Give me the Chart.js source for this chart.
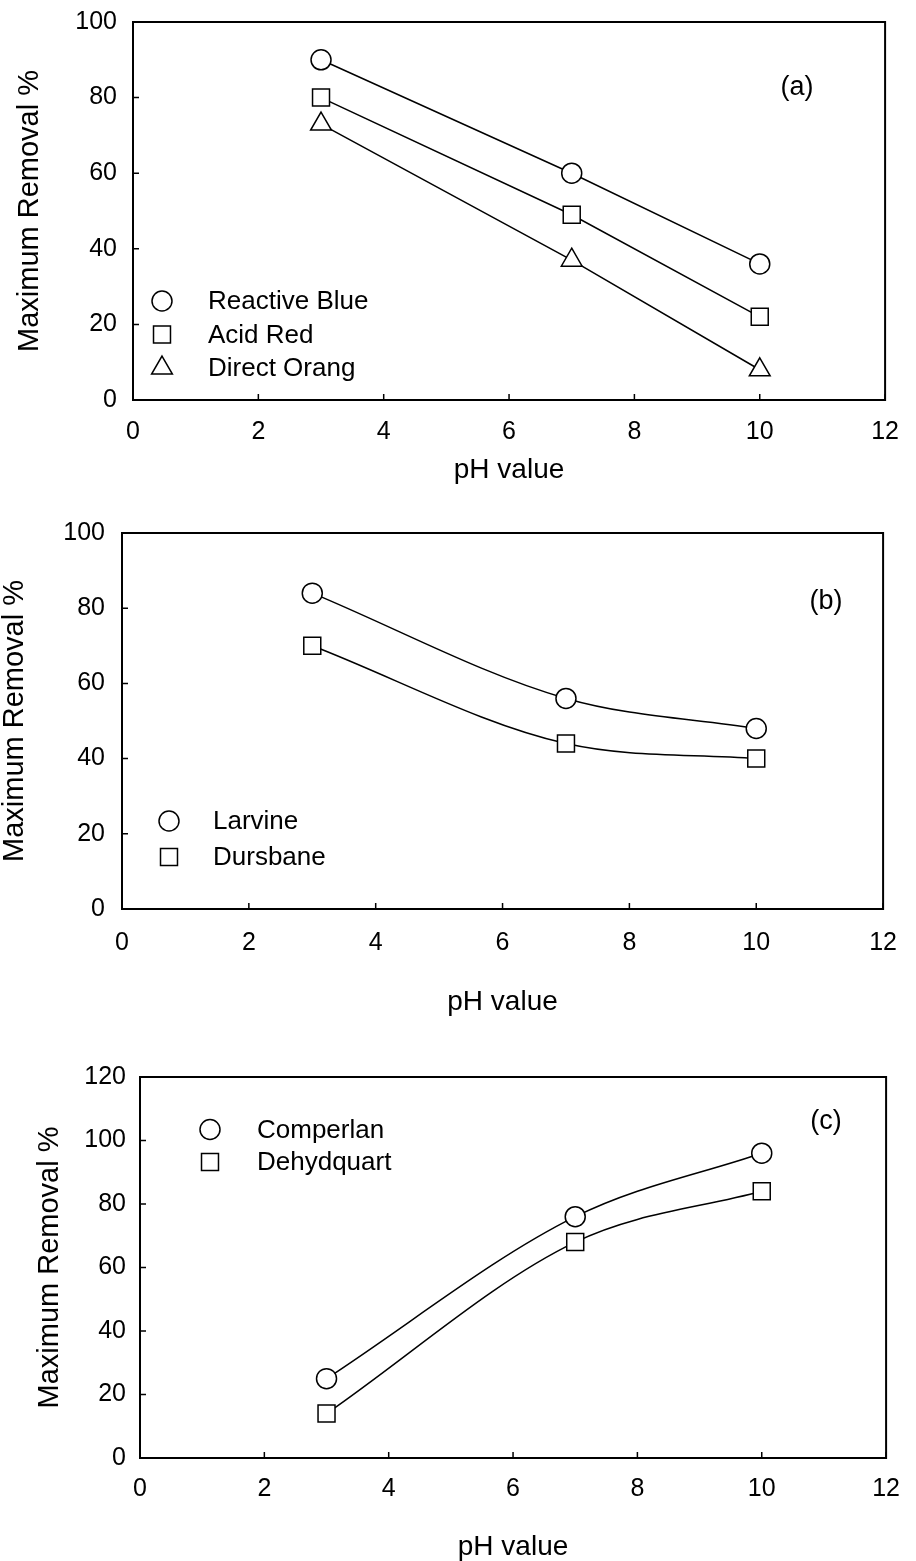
<!DOCTYPE html>
<html>
<head>
<meta charset="utf-8">
<script src="https://cdn.jsdelivr.net/npm/chart.js"></script>
<style>
  body { margin: 0; background: #fff; }
  #wrap { position: relative; width: 916px; height: 1561px; }
  canvas { position: absolute; left: 0; }
</style>
</head>
<body>
<div id="wrap">
  <canvas id="chartA" width="916" height="500" style="top:0px"></canvas>
  <canvas id="chartB" width="916" height="540" style="top:500px"></canvas>
  <canvas id="chartC" width="916" height="521" style="top:1040px"></canvas>
</div>
<script>
// pH values used for every series
const phValues = [3, 7, 10];

// (a) dyes
const reactiveBlue = [90, 60, 36];
const acidRed = [80, 49, 22];
const directOrang = [73, 37, 8];

// (b) pesticides
const larvine = [84, 56, 48];
const dursbane = [70, 44, 40];

// (c) surfactants
const comperlan = [25, 76, 96];
const dehydquart = [14, 68, 84];

// axis ticks
const xTicks = [0, 2, 4, 6, 8, 10, 12];
const yTicksAB = [0, 20, 40, 60, 80, 100];
const yTicksC = [0, 20, 40, 60, 80, 100, 120];

const FONT = '"Liberation Sans", Arial, sans-serif';
Chart.defaults.color = '#000';
Chart.defaults.font.family = FONT;

const markerSize = { circle: 10, rect: 12, triangle: 12 };

function series(label, values, style, smooth) {
    return {
        label: label,
        data: values.map((v, i) => ({ x: phValues[i], y: v })),
        borderColor: '#000',
        borderWidth: 1.5,
        backgroundColor: '#fff',
        pointStyle: style,
        pointRadius: markerSize[style],
        pointBorderWidth: 1.5,
        pointBackgroundColor: '#fff',
        pointBorderColor: '#000',
        tension: 0,
        cubicInterpolationMode: smooth ? 'monotone' : 'default'
    };
}

// frame + ticks pointing into the plot
const frameAndTicks = {
    id: 'frameAndTicks',
    beforeDatasetsDraw(chart) {
        const { ctx, chartArea: a, scales } = chart;
        ctx.save();
        ctx.strokeStyle = '#000';
        ctx.lineWidth = 2;
        ctx.strokeRect(a.left, a.top, a.right - a.left, a.bottom - a.top);
        ctx.lineWidth = 1.5;
        ctx.beginPath();
        scales.x.ticks.forEach(t => {
            const px = scales.x.getPixelForValue(t.value);
            ctx.moveTo(px, a.bottom);
            ctx.lineTo(px, a.bottom - 6);
        });
        scales.y.ticks.forEach(t => {
            const py = scales.y.getPixelForValue(t.value);
            ctx.moveTo(a.left, py);
            ctx.lineTo(a.left + 6, py);
        });
        ctx.stroke();
        ctx.restore();
    }
};

// legend drawn inside the plot, plus the panel tag
const insideLegend = {
    id: 'insideLegend',
    afterDraw(chart, args, opts) {
        const ctx = chart.ctx;
        ctx.save();
        ctx.font = '26px ' + FONT;
        ctx.textBaseline = 'middle';
        ctx.textAlign = 'left';
        chart.data.datasets.forEach((ds, i) => {
            const y = opts.y + i * opts.dy;
            ctx.fillStyle = '#fff';
            ctx.strokeStyle = '#000';
            ctx.lineWidth = 1.5;
            Chart.helpers.drawPoint(ctx, {
                pointStyle: ds.pointStyle,
                rotation: 0,
                radius: ds.pointRadius,
                borderWidth: 1.5
            }, opts.markerX, y);
            ctx.fillStyle = '#000';
            ctx.fillText(ds.label, opts.textX, y + 1);
        });
        ctx.font = '27px ' + FONT;
        ctx.textAlign = 'center';
        ctx.fillText(opts.tag, opts.tagX, opts.tagY);
        ctx.restore();
    }
};

function makeOptions(o) {
    return {
        responsive: false,
        animation: false,
        devicePixelRatio: 1,
        layout: { padding: { top: o.top, right: o.right, left: 0, bottom: 0 } },
        plugins: {
            legend: { display: false },
            tooltip: { enabled: false },
            insideLegend: o.legend
        },
        scales: {
            x: {
                type: 'linear',
                min: 0, max: 12,
                afterBuildTicks: s => { s.ticks = xTicks.map(v => ({ value: v })); },
                afterFit: s => { s.height = o.xHeight; },
                grid: { display: false, drawTicks: false },
                border: { display: false },
                ticks: { padding: o.xPad, font: { size: 25 } },
                title: {
                    display: true, text: 'pH value',
                    font: { size: 28, lineHeight: 1 },
                    padding: { top: 0, bottom: o.xTitlePad }
                }
            },
            y: {
                type: 'linear',
                min: 0, max: o.yTicks[o.yTicks.length - 1],
                afterBuildTicks: s => { s.ticks = o.yTicks.map(v => ({ value: v })); },
                afterFit: s => { s.width = o.left; s.paddingTop = 0; s.paddingBottom = 0; },
                grid: { display: false, drawTicks: false },
                border: { display: false },
                ticks: { padding: o.yPad, font: { size: 25 } },
                title: {
                    display: true, text: 'Maximum Removal %',
                    font: { size: 29, lineHeight: 1 },
                    padding: { top: o.yTitlePad, bottom: 0 }
                }
            }
        }
    };
}

const ctxA = document.getElementById('chartA').getContext('2d');
const ctxB = document.getElementById('chartB').getContext('2d');
const ctxC = document.getElementById('chartC').getContext('2d');

const chartA = new Chart(ctxA, {
    type: 'line',
    data: {
        datasets: [
            series('Reactive Blue', reactiveBlue, 'circle', false),
            series('Acid Red', acidRed, 'rect', false),
            series('Direct Orang', directOrang, 'triangle', false)
        ]
    },
    options: makeOptions({
        top: 22, right: 27, left: 133, xHeight: 100,
        xPad: 17, yPad: 16, xTitlePad: 16, yTitlePad: 15,
        yTicks: yTicksAB,
        legend: { markerX: 162, textX: 208, y: 301, dy: 33.5, tag: '(a)', tagX: 797, tagY: 88 }
    }),
    plugins: [frameAndTicks, insideLegend]
});

const chartB = new Chart(ctxB, {
    type: 'line',
    data: {
        datasets: [
            series('Larvine', larvine, 'circle', true),
            series('Dursbane', dursbane, 'rect', true)
        ]
    },
    options: makeOptions({
        top: 33, right: 31, left: 122, xHeight: 131,
        xPad: 19, yPad: 17, xTitlePad: 24, yTitlePad: 0.5,
        yTicks: yTicksAB,
        legend: { markerX: 169, textX: 213, y: 321, dy: 36, tag: '(b)', tagX: 826, tagY: 102 }
    }),
    plugins: [frameAndTicks, insideLegend]
});

const chartC = new Chart(ctxC, {
    type: 'line',
    data: {
        datasets: [
            series('Comperlan', comperlan, 'circle', true),
            series('Dehydquart', dehydquart, 'rect', true)
        ]
    },
    options: makeOptions({
        top: 37, right: 19, left: 140, xHeight: 103,
        xPad: 16, yPad: 14, xTitlePad: 0, yTitlePad: 35,
        yTicks: yTicksC,
        legend: { markerX: 210, textX: 257, y: 89.5, dy: 32.5, tag: '(c)', tagX: 826, tagY: 82 }
    }),
    plugins: [frameAndTicks, insideLegend]
});
</script>
</body>
</html>
